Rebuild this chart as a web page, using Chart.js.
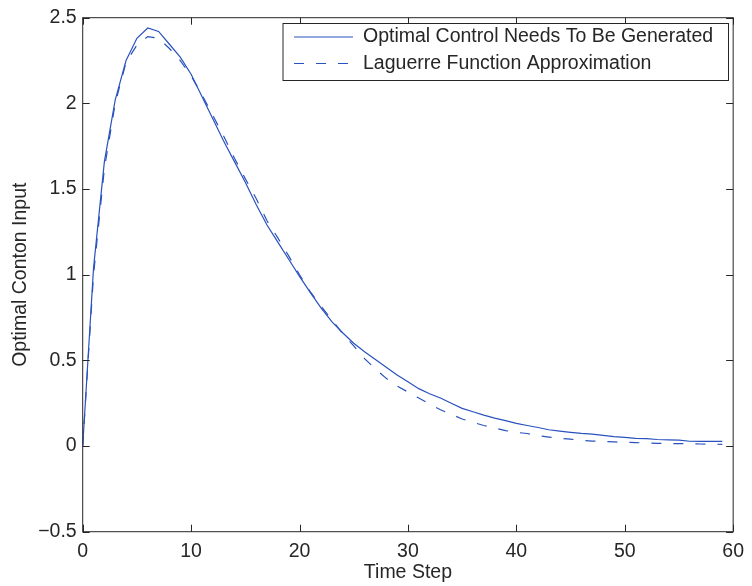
<!DOCTYPE html>
<html>
<head>
<meta charset="utf-8">
<script src="https://cdn.jsdelivr.net/npm/chart.js@4/dist/chart.umd.min.js"></script>
<style>
  body { margin: 0; background: #fff; }
  #wrap { width: 752px; height: 586px; }
</style>
</head>
<body>
<div id="wrap"><canvas id="laguerreChart" width="752" height="586"></canvas></div>
<script>
// DATA
const timeSteps = [0, 1, 2, 3, 4, 5, 6, 7, 8, 9, 10, 11, 12, 13, 14, 15, 16, 17, 18, 19,
  20, 21, 22, 23, 24, 25, 26, 27, 28, 29, 30, 31, 32, 33, 34, 35, 36, 37, 38, 39,
  40, 41, 42, 43, 44, 45, 46, 47, 48, 49, 50, 51, 52, 53, 54, 55, 56, 57, 58, 59];

const optimalControl = [0, 1.04, 1.66, 2.02, 2.25, 2.38, 2.44, 2.42, 2.345, 2.27,
  2.17, 2.04, 1.91, 1.78, 1.66, 1.54, 1.41, 1.29, 1.19, 1.09,
  0.99, 0.895, 0.805, 0.725, 0.66, 0.6, 0.55, 0.505, 0.46, 0.415,
  0.375, 0.335, 0.305, 0.28, 0.25, 0.22, 0.2, 0.18, 0.163, 0.148,
  0.132, 0.12, 0.108, 0.095, 0.087, 0.08, 0.074, 0.07, 0.062, 0.055,
  0.05, 0.045, 0.043, 0.038, 0.036, 0.034, 0.028, 0.027, 0.027, 0.027];

const laguerreApprox = [0, 1.0, 1.62, 2.0, 2.24, 2.34, 2.39, 2.38, 2.32, 2.25,
  2.16, 2.05, 1.93, 1.81, 1.68, 1.56, 1.445, 1.315, 1.215, 1.11,
  1.0, 0.9, 0.815, 0.735, 0.655, 0.585, 0.51, 0.45, 0.395, 0.35,
  0.315, 0.28, 0.245, 0.212, 0.185, 0.158, 0.138, 0.12, 0.105, 0.09,
  0.08, 0.073, 0.06, 0.052, 0.045, 0.04, 0.033, 0.029, 0.026, 0.024,
  0.022, 0.02, 0.018, 0.016, 0.015, 0.014, 0.013, 0.012, 0.011, 0.01];

const seriesLabels = ['Optimal Control Needs To Be Generated', 'Laguerre Function Approximation'];
const xTicks = [0, 10, 20, 30, 40, 50, 60];
const yTicks = [-0.5, 0, 0.5, 1, 1.5, 2, 2.5];

const lineColor = '#2a52be';
const axisColor = '#262626';
const fontFamily = '"Liberation Sans", Arial, Helvetica, sans-serif';
const fontSize = 19.5;
const dashPattern = [10, 12];

// box + inward ticks + legend, matlab style
const matlabAxes = {
  id: 'matlabAxes',
  afterDatasetsDraw(chart) {
    const { ctx, chartArea: a, scales } = chart;
    const tickLen = 7;
    ctx.save();
    ctx.strokeStyle = axisColor;
    ctx.lineWidth = 1;
    ctx.strokeRect(a.left, a.top, a.right - a.left, a.bottom - a.top);
    ctx.beginPath();
    xTicks.forEach(v => {
      const px = Math.round(scales.x.getPixelForValue(v)) + 0.5;
      ctx.moveTo(px, a.bottom); ctx.lineTo(px, a.bottom - tickLen);
      ctx.moveTo(px, a.top); ctx.lineTo(px, a.top + tickLen);
    });
    yTicks.forEach(v => {
      const py = Math.round(scales.y.getPixelForValue(v)) + 0.5;
      ctx.moveTo(a.left, py); ctx.lineTo(a.left + tickLen, py);
      ctx.moveTo(a.right, py); ctx.lineTo(a.right - tickLen, py);
    });
    ctx.stroke();

    // legend box
    const box = { left: 283, top: 23.5, right: 728.5, bottom: 80.5 };
    ctx.fillStyle = '#fff';
    ctx.fillRect(box.left, box.top, box.right - box.left, box.bottom - box.top);
    ctx.strokeRect(box.left, box.top, box.right - box.left, box.bottom - box.top);
    const rows = [37, 63.5];
    chart.data.datasets.forEach((ds, i) => {
      ctx.beginPath();
      ctx.strokeStyle = ds.borderColor;
      ctx.lineWidth = ds.borderWidth;
      ctx.setLineDash(ds.borderDash || []);
      ctx.moveTo(294, rows[i]);
      ctx.lineTo(353, rows[i]);
      ctx.stroke();
      ctx.setLineDash([]);
      ctx.fillStyle = axisColor;
      ctx.font = fontSize + 'px ' + fontFamily;
      ctx.textBaseline = 'middle';
      ctx.fillText(ds.label, 363, rows[i]);
    });
    ctx.restore();
  }
};

const ctx = document.getElementById('laguerreChart').getContext('2d');

new Chart(ctx, {
  type: 'line',
  data: {
    datasets: [{
      label: seriesLabels[0],
      data: timeSteps.map((t, i) => ({ x: t, y: optimalControl[i] })),
      borderColor: lineColor,
      borderWidth: 1.2,
      pointRadius: 0,
      tension: 0,
      fill: false
    }, {
      label: seriesLabels[1],
      data: timeSteps.map((t, i) => ({ x: t, y: laguerreApprox[i] })),
      borderColor: lineColor,
      borderWidth: 1.2,
      borderDash: dashPattern,
      pointRadius: 0,
      tension: 0,
      fill: false
    }]
  },
  options: {
    responsive: false,
    animation: false,
    layout: { padding: { left: 0, top: 14, right: 12.7, bottom: 0 } },
    plugins: {
      legend: { display: false },
      tooltip: { enabled: false }
    },
    scales: {
      x: {
        type: 'linear',
        min: 0,
        max: 60,
        afterBuildTicks: scale => { scale.ticks = xTicks.map(v => ({ value: v })); },
        afterFit: scale => { scale.height = 54.3; },
        grid: { display: false, drawTicks: false, tickLength: 0 },
        border: { display: false },
        ticks: {
          color: axisColor,
          font: { family: fontFamily, size: fontSize },
          padding: 8,
          maxRotation: 0
        },
        title: {
          display: true,
          text: 'Time Step',
          color: axisColor,
          font: { family: fontFamily, size: fontSize },
          padding: { top: 0, bottom: 1.5 }
        }
      },
      y: {
        type: 'linear',
        min: -0.5,
        max: 2.5,
        afterBuildTicks: scale => { scale.ticks = yTicks.map(v => ({ value: v })); },
        afterFit: scale => { scale.width = 82.7; },
        grid: { display: false, drawTicks: false, tickLength: 0 },
        border: { display: false },
        ticks: {
          color: axisColor,
          font: { family: fontFamily, size: fontSize },
          padding: 6,
          callback: v => String(v).replace('-', '\u2212')
        },
        title: {
          display: true,
          text: 'Optimal Conton Input',
          color: axisColor,
          font: { family: fontFamily, size: fontSize },
          padding: { top: 9, bottom: 0 }
        }
      }
    }
  },
  plugins: [matlabAxes]
});
</script>
</body>
</html>
